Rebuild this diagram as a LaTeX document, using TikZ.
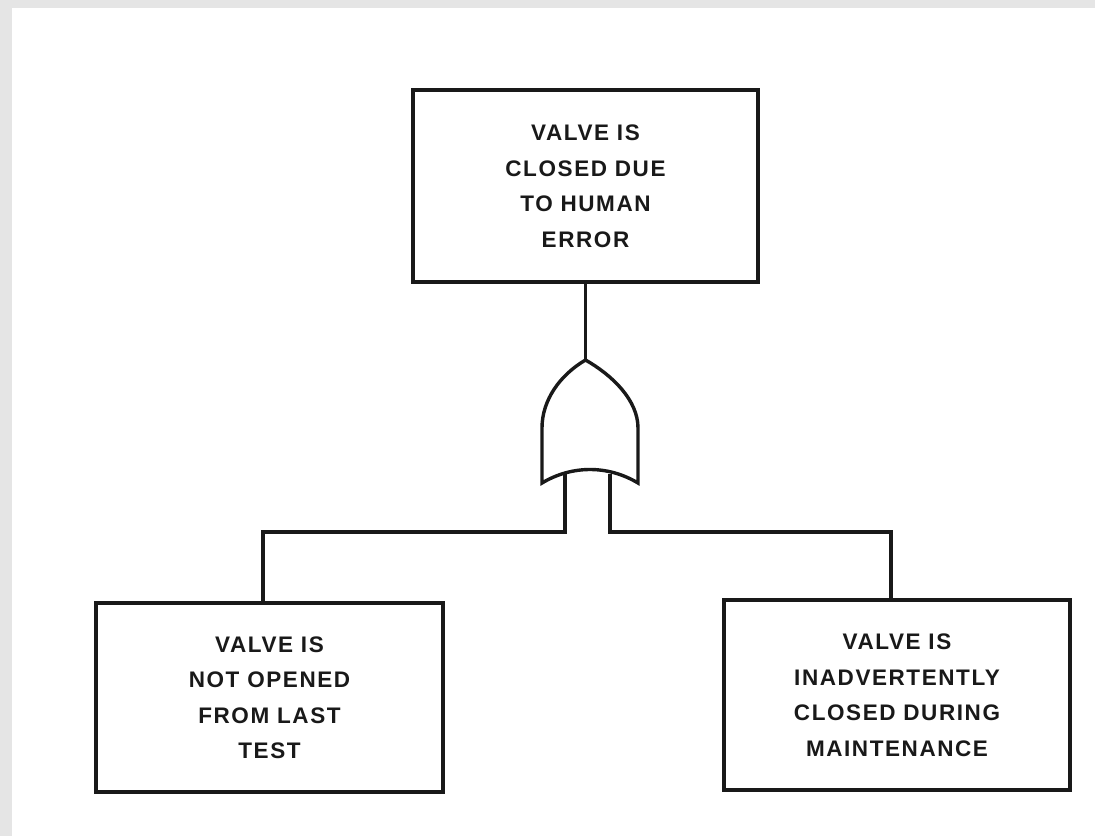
\documentclass[tikz,border=0pt]{standalone}
\usepackage{fontspec}
\setmainfont{Liberation Sans}[LetterSpace=7]
\begin{document}
\begin{tikzpicture}[x=1pt,y=-1pt,
  line width=3.4pt, line join=miter,
  evbox/.style={draw=black!90, rectangle, align=center, inner sep=0pt,
    font=\bfseries\fontsize{22.5}{35.5}\selectfont, text=black!90},
  wire/.style={draw=black!90}]
\useasboundingbox (0,0) rectangle (1095,836);
\fill[black!10] (0,0) rectangle (1095,836);
\fill[white] (12,8) rectangle (1095,836);
% events
\node[evbox, minimum width=345pt, minimum height=192pt] (top) at (585.5,186)
  {VALVE IS\\CLOSED DUE\\TO HUMAN\\ERROR};
\node[evbox, minimum width=347pt, minimum height=189pt] (left) at (269.5,697.5)
  {VALVE IS\\NOT OPENED\\FROM LAST\\TEST};
\node[evbox, minimum width=346pt, minimum height=190pt] (right) at (897,695)
  {VALVE IS\\INADVERTENTLY\\CLOSED DURING\\MAINTENANCE};
% gate reference points
\coordinate (gtop) at (585.5,360);
\coordinate (gin1) at (565,474);
\coordinate (gin2) at (610,474);
\coordinate (bl) at (263,532);
\coordinate (br) at (891,532);
% connectors
\draw[wire] (top.south) -- (gtop);
\draw[wire] (gin1) -- (gin1 |- bl) -- (bl) -- (bl |- left.north);
\draw[wire] (gin2) -- (gin2 |- br) -- (br) -- (br |- right.north);
% OR gate
\draw[wire, fill=white] (gtop) .. controls (560,375) and (542,400) .. (542,428)
  -- (542,483) .. controls (572,465) and (608,465) .. (638,483)
  -- (638,428) .. controls (638,400) and (612,375) .. (gtop) -- cycle;
\end{tikzpicture}
\end{document}
